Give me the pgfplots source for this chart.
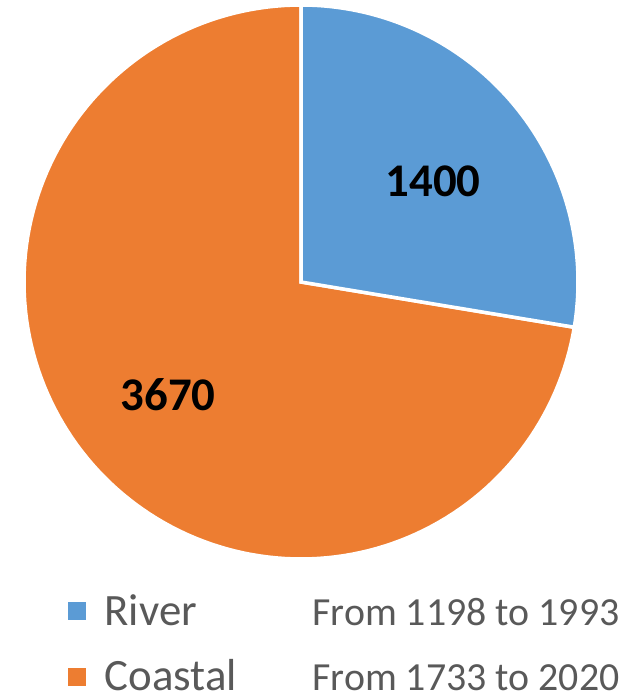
\documentclass[border=0pt]{standalone}
\usepackage{pgfplots}
\pgfplotsset{compat=1.18}
\usepackage{fontspec}
\setmainfont{Carlito}
\definecolor{riverblue}{HTML}{5B9BD5}
\definecolor{coastorange}{HTML}{ED7D31}
\definecolor{legtext}{HTML}{595959}
\begin{document}
\begin{tikzpicture}
\begin{axis}[
  scale only axis, width=626bp, height=698bp,
  xmin=0, xmax=626, ymin=0, ymax=698,
  hide axis, clip=false,
  legend style={draw=none, fill=none, at={(axis cs:68,104)}, anchor=north west,
    inner sep=0pt, row sep=33bp, column sep=0pt,
    nodes={inner sep=0pt, text=legtext}},
  legend cell align=left,
]
% total = 1400 + 3670 = 5070 ; start at 90 deg, clockwise
\addplot[forget plot, fill=coastorange, draw=white, line width=3.5bp, domain=1400:5070, samples=150, variable=\t]
  ({301+277*cos(90-\t*360/5070)}, {416+277*sin(90-\t*360/5070)}) -- (axis cs:301,416) -- cycle;
\addplot[forget plot, fill=riverblue, draw=white, line width=3.5bp, domain=0:1400, samples=80, variable=\t]
  ({301+277*cos(90-\t*360/5070)}, {416+277*sin(90-\t*360/5070)}) -- (axis cs:301,416) -- cycle;

\node[font=\bfseries\fontsize{47}{47}\selectfont, text=black] at (axis cs:433,517) {1400};
\node[font=\bfseries\fontsize{47}{47}\selectfont, text=black] at (axis cs:168,303) {3670};

\addlegendimage{legend image code/.code={\fill[riverblue] (0bp,-9bp) rectangle (17bp,8bp);}}
\addlegendentry{\hspace{19bp}\makebox[208bp][l]{\fontsize{45}{45}\selectfont River}{\fontsize{40}{40}\selectfont From 1198 to 1993}}
\addlegendimage{legend image code/.code={\fill[coastorange] (0bp,-9bp) rectangle (17bp,8bp);}}
\addlegendentry{\hspace{19bp}\makebox[208bp][l]{\fontsize{45}{45}\selectfont Coastal}{\fontsize{40}{40}\selectfont From 1733 to 2020}}
\end{axis}
\pgfresetboundingbox
\path (current axis.south west) rectangle (current axis.north east);
\end{tikzpicture}
\end{document}
